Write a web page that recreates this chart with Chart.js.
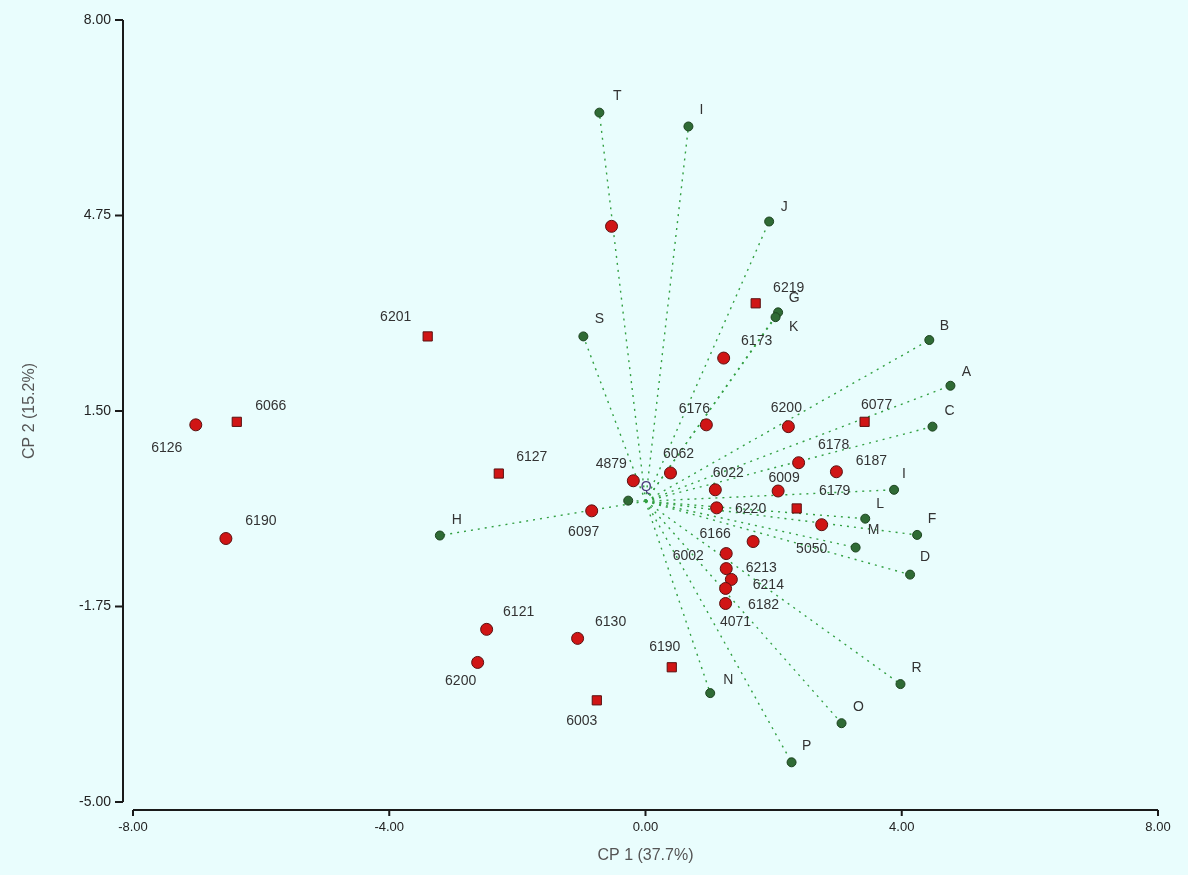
<!DOCTYPE html>
<html>
<head>
<meta charset="utf-8">
<script src="https://cdn.jsdelivr.net/npm/chart.js@4/dist/chart.umd.min.js"></script>
<style>
  html, body { margin: 0; padding: 0; background: #e9fdfd; }
  canvas { display: block; }
</style>
</head>
<body>
<canvas id="biplot" width="1188" height="875"></canvas>
<script>
// genotype scores (red points)
const genoNames = ["6126", "6066", "6190", "6201", "6127", "6097", "4879", "6062", "", "6219",
  "6173", "6176", "6200", "6077", "6178", "6187", "6022", "6009", "6220", "6179",
  "5050", "6166", "6002", "6213", "6214", "6182", "4071", "6121", "6200", "6130", "6190", "6003"];
const genoX = [-7.02, -6.38, -6.55, -3.40, -2.29, -0.84, -0.19, 0.39, -0.53, 1.72,
  1.22, 0.95, 2.23, 3.42, 2.39, 2.98, 1.09, 2.07, 1.11, 2.36,
  2.75, 1.68, 1.26, 1.26, 1.34, 1.25, 1.25, -2.48, -2.62, -1.06, 0.41, -0.76];
const genoY = [1.27, 1.32, -0.62, 2.74, 0.46, -0.16, 0.34, 0.47, 4.57, 3.29,
  2.38, 1.27, 1.24, 1.32, 0.64, 0.49, 0.19, 0.17, -0.11, -0.12,
  -0.39, -0.67, -0.87, -1.12, -1.30, -1.45, -1.70, -2.13, -2.68, -2.28, -2.76, -3.31];

// trait loadings (green vectors)
const traitNames = ["T", "I", "J", "G", "K", "S", "B", "A", "C", "I",
  "L", "M", "F", "D", "H", "R", "O", "P", "N", "Q"];
const traitX = [-0.72, 0.67, 1.93, 2.07, 2.03, -0.97, 4.43, 4.76, 4.48, 3.88,
  3.43, 3.28, 4.24, 4.13, -3.21, 3.98, 3.06, 2.28, 1.01, -0.27];
const traitY = [6.46, 6.23, 4.65, 3.14, 3.06, 2.74, 2.68, 1.92, 1.24, 0.19,
  -0.29, -0.77, -0.56, -1.22, -0.57, -3.04, -3.69, -4.34, -3.19, 0.01];

const xTicks = [-8, -4, 0, 4, 8];
const yTicks = [-5, -1.75, 1.5, 4.75, 8];

// label placement (pixel offsets from each point)
const genoLabelOff = [[-29, 23], [34, -16], [35, -17], [-32, -19], [33, -16], [-8, 21], [-22, -17], [8, -19], [0, 0], [33, -15],
  [33, -17], [-12, -16], [-2, -18], [12, -17], [35, -18], [35, -11], [13, -17], [6, -13], [34, 1], [38, -17],
  [-10, 24], [-38, -7], [-38, 3], [35, 0], [37, 6], [38, 17], [10, 19], [32, -17], [-17, 19], [33, -16], [-7, -20], [-15, 21]];
const traitLabelOff = [[18, -16], [13, -16], [15, -14], [16, -14], [18, 10], [16, -17], [15, -14], [16, -14], [17, -15], [10, -16],
  [15, -15], [18, -17], [15, -16], [15, -17], [17, -15], [16, -16], [17, -16], [15, -16], [18, -13], [18, -13]];
const squareGeno = ["6066", "6201", "6127", "6219", "6077", "6179", "6003"];

const vectorSets = traitNames.map((n, i) => ({
  type: "line",
  data: [{ x: 0, y: 0 }, { x: traitX[i], y: traitY[i] }],
  borderColor: "#33a043",
  borderWidth: 1.4,
  borderDash: [2, 5],
  pointRadius: 0,
  fill: false,
  order: 3
}));

const traitSet = {
  type: "scatter",
  data: traitX.map((v, i) => ({ x: v, y: traitY[i] })),
  backgroundColor: "#2f6b35",
  borderColor: "#1d4420",
  borderWidth: 1,
  pointRadius: 4.5,
  pointStyle: "circle",
  order: 2
};

const genoSet = {
  type: "scatter",
  data: genoX.map((v, i) => ({ x: v, y: genoY[i] })),
  backgroundColor: "#d01515",
  borderColor: "#5a1010",
  borderWidth: 1,
  pointRadius: genoNames.map((n, i) => (squareGeno.includes(n) || i === 30) ? 6.5 : 6),
  pointStyle: genoNames.map((n, i) => (squareGeno.includes(n) || i === 30) ? "rect" : "circle"),
  order: 1
};

const bgPlugin = {
  id: "bg",
  beforeDraw(chart) {
    const ctx = chart.ctx;
    ctx.save();
    ctx.fillStyle = "#e9fdfd";
    ctx.fillRect(0, 0, chart.width, chart.height);
    ctx.restore();
  }
};

// axes drawn a little away from the plot area
const axesPlugin = {
  id: "offsetAxes",
  afterDraw(chart) {
    const { ctx, scales: { x, y }, chartArea } = chart;
    const ax = chartArea.left - 10;
    const ay = chartArea.bottom + 8;
    ctx.save();
    ctx.strokeStyle = "#1a1a1a";
    ctx.lineWidth = 2;
    ctx.beginPath();
    ctx.moveTo(ax, y.getPixelForValue(8));
    ctx.lineTo(ax, y.getPixelForValue(-5));
    yTicks.forEach(v => {
      const py = y.getPixelForValue(v);
      ctx.moveTo(ax - 8, py);
      ctx.lineTo(ax, py);
    });
    ctx.moveTo(x.getPixelForValue(-8), ay);
    ctx.lineTo(x.getPixelForValue(8), ay);
    xTicks.forEach(v => {
      const px = x.getPixelForValue(v);
      ctx.moveTo(px, ay);
      ctx.lineTo(px, ay + 6);
    });
    ctx.stroke();
    ctx.restore();
  }
};

const labelPlugin = {
  id: "pointLabels",
  afterDatasetsDraw(chart) {
    const { ctx, scales: { x, y } } = chart;
    ctx.save();
    ctx.font = "14px 'Liberation Sans', Arial, sans-serif";
    ctx.textAlign = "center";
    ctx.textBaseline = "middle";
    ctx.fillStyle = "#333";
    genoNames.forEach((n, i) => {
      if (!n) return;
      ctx.fillText(n, x.getPixelForValue(genoX[i]) + genoLabelOff[i][0], y.getPixelForValue(genoY[i]) + genoLabelOff[i][1]);
    });
    traitNames.forEach((n, i) => {
      ctx.fillStyle = n === "Q" ? "#4a3a7a" : "#333";
      ctx.fillText(n, x.getPixelForValue(traitX[i]) + traitLabelOff[i][0], y.getPixelForValue(traitY[i]) + traitLabelOff[i][1]);
    });
    ctx.restore();
  }
};

new Chart(document.getElementById("biplot"), {
  type: "scatter",
  data: { datasets: [...vectorSets, traitSet, genoSet] },
  options: {
    responsive: false,
    animation: false,
    layout: { padding: { top: 20, right: 30, left: 0, bottom: 0 } },
    plugins: { legend: { display: false }, tooltip: { enabled: false } },
    scales: {
      x: {
        type: "linear",
        min: -8, max: 8,
        afterFit: s => { s.height = 73; s.paddingLeft = 0; s.paddingRight = 0; },
        afterBuildTicks: s => { s.ticks = xTicks.map(v => ({ value: v })); },
        grid: { display: false, drawTicks: false },
        border: { display: false },
        ticks: {
          padding: 18,
          color: "#222",
          font: { size: 13, family: "'Liberation Sans', Arial, sans-serif" },
          callback: v => v.toFixed(2)
        },
        title: {
          display: true,
          text: "CP 1 (37.7%)",
          color: "#555",
          font: { size: 16, family: "'Liberation Sans', Arial, sans-serif" },
          padding: { top: 4, bottom: 10 }
        }
      },
      y: {
        type: "linear",
        min: -5, max: 8,
        afterFit: s => { s.width = 133; s.paddingTop = 0; s.paddingBottom = 0; },
        afterBuildTicks: s => { s.ticks = yTicks.map(v => ({ value: v })); },
        grid: { display: false, drawTicks: false },
        border: { display: false },
        ticks: {
          padding: 22,
          color: "#222",
          font: { size: 14, family: "'Liberation Sans', Arial, sans-serif" },
          callback: v => v.toFixed(2)
        },
        title: {
          display: true,
          text: "CP 2 (15.2%)",
          color: "#555",
          font: { size: 16, family: "'Liberation Sans', Arial, sans-serif" },
          padding: { top: 20, bottom: 4 }
        }
      }
    }
  },
  plugins: [bgPlugin, axesPlugin, labelPlugin]
});
</script>
</body>
</html>
